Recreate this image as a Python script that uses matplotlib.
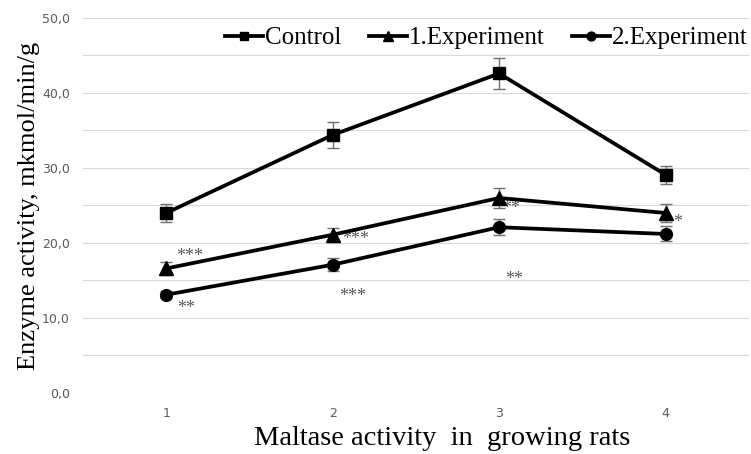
import matplotlib.pyplot as plt
import numpy as np

groups = [1, 2, 3, 4]
control = [24.0, 34.4, 42.6, 29.1]
control_err = [1.15, 1.7, 2.1, 1.2]
exp1 = [16.6, 21.1, 26.0, 24.0]
exp1_err = [0.9, 0.95, 1.3, 1.2]
exp2 = [13.1, 17.1, 22.1, 21.2]
exp2_err = [0.5, 0.9, 1.05, 1.0]

# significance marks (x, y, text)
stars_x = [1.14, 1.12, 2.14, 2.12, 3.07, 3.09, 4.07]
stars_y = [18.2, 11.2, 20.4, 12.8, 24.6, 15.1, 22.7]
stars_txt = ["***", "**", "***", "***", "**", "**", "*"]

plt.rcParams['font.family'] = ['Liberation Serif', 'DejaVu Serif']

fig = plt.figure(figsize=(7.51, 4.54), dpi=100)
ax = fig.add_axes([0.1105, 0.1344, 0.8865, 0.826])

series = [
    (control, control_err, 's', 8.5, "Control"),
    (exp1, exp1_err, '^', 9.5, "1.Experiment"),
    (exp2, exp2_err, 'o', 8.5, "2.Experiment"),
]
handles = []
for vals, err, mk, ms, name in series:
    ax.errorbar(groups, vals, yerr=err, fmt='none', ecolor='#707070',
                elinewidth=1.0, capsize=4.5, capthick=1.0, zorder=3)
    h, = ax.plot(groups, vals, color='black', lw=2.7, marker=mk, ms=ms,
                 zorder=4, label=name)
    handles.append(h)

for x, y, t in zip(stars_x, stars_y, stars_txt):
    ax.text(x, y, t, ha='center', va='center', fontsize=13, color='#595959')

ax.set_xlim(0.5, 4.5)
ax.set_ylim(0, 50)
ax.set_xticks(groups)
yt = np.arange(0, 51, 10)
ax.set_yticks(yt)
ax.set_yticklabels([("%.1f" % v).replace('.', ',') for v in yt])
ax.set_yticks(np.arange(5, 50, 10), minor=True)
ax.grid(True, axis='y', which='both', color='#d9d9d9', lw=0.8)
ax.set_axisbelow(True)
for s in ax.spines.values():
    s.set_visible(False)
ax.tick_params(axis='both', which='both', length=0, colors='#595959',
               labelsize=9)
for lbl in ax.get_xticklabels() + ax.get_yticklabels():
    lbl.set_family(['DejaVu Sans'])
ax.tick_params(axis='y', pad=9.5)
ax.tick_params(axis='x', pad=10)

ax.set_xlabel("Maltase activity  in  growing rats", fontsize=20.5, labelpad=2)
ax.xaxis.set_label_coords(0.54, -0.088)
ax.set_ylabel("Enzyme activity, mkmol/min/g", fontsize=19, labelpad=1)

fig.legend(handles=handles, loc='center', bbox_to_anchor=(0.648, 0.916),
           ncol=3, frameon=True, edgecolor='none', facecolor='white',
           fontsize=18, handlelength=1.5, handletextpad=0.1,
           columnspacing=1.1, markerscale=0.75, borderpad=0.1)

fig.savefig("out.png", dpi=100)
